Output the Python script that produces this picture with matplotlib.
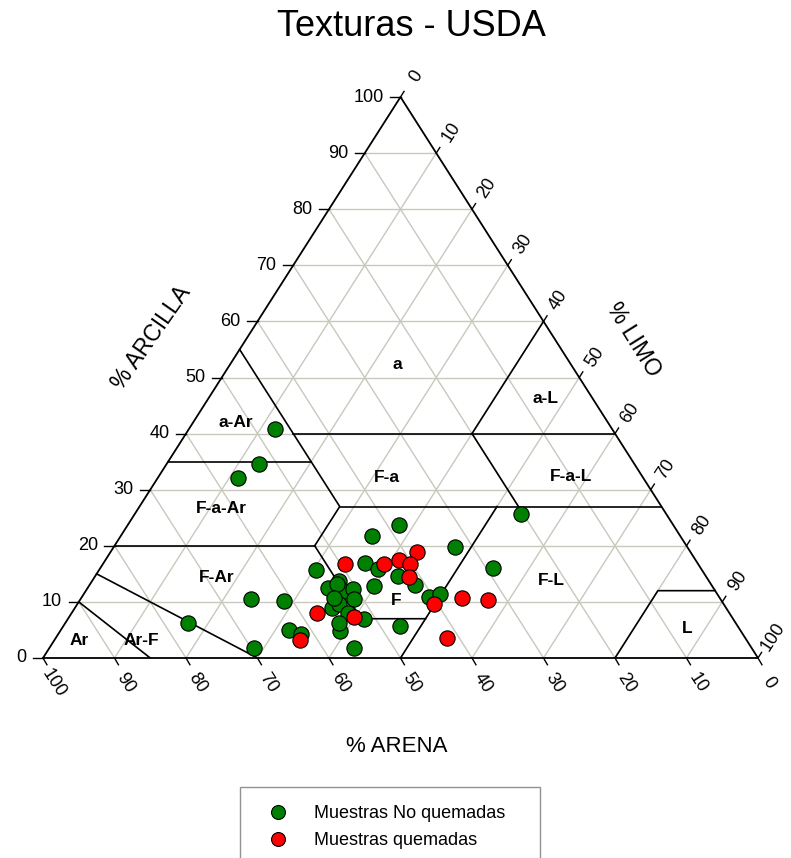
import numpy as np
import matplotlib.pyplot as plt
from matplotlib.lines import Line2D

plt.rcParams['font.family'] = ['Liberation Sans', 'DejaVu Sans']

# % arena y % arcilla de cada muestra (limo = 100 - arena - arcilla)
sand_green = [47.2, 52.5, 56.7, 43.2, 54.0, 46.5, 65.6, 61.2, 76.6, 69.6, 63.1, 61.8, 56.1,
              55.6, 38.4, 32.5, 45.2, 43.0, 41.5, 29.1, 47.3, 53.9, 51.8, 52.0, 50.5, 51.2,
              55.2, 53.8, 53.3, 51.6, 55.5, 40.6, 38.8, 47.2, 20.3, 52.3, 54.0]
clay_green = [40.8, 34.6, 32.1, 21.7, 15.7, 16.9, 10.5, 10.2, 6.2, 1.8, 5.0, 4.3, 4.8,
              1.8, 23.7, 19.8, 15.9, 14.6, 13.0, 16.0, 12.8, 12.5, 13.7, 11.9, 12.3, 10.5,
              8.9, 9.6, 8.0, 7.0, 6.2, 10.9, 11.4, 5.7, 25.7, 13.2, 10.7]
sand_red = [49.4, 38.2, 43.9, 41.5, 40.3, 41.6, 57.7, 52.8, 40.5, 36.1, 32.6, 41.7, 62.5]
clay_red = [16.8, 18.9, 16.8, 17.5, 16.8, 14.4, 8.0, 7.3, 9.6, 10.7, 10.3, 3.6, 3.2]

ticks = list(range(0, 101, 10))

# clases texturales USDA: nombre y posicion (arena, arcilla) del rotulo
classes = ['a', 'a-L', 'a-Ar', 'F-a', 'F-a-L', 'F-a-Ar', 'F-Ar', 'F', 'F-L', 'L', 'Ar', 'Ar-F']
class_sand = [24.3, 6.6, 52.1, 35.9, 10.0, 61.7, 68.6, 45.4, 22.0, 7.2, 93.4, 84.6]
class_clay = [52.4, 46.3, 41.9, 32.1, 32.4, 26.7, 14.3, 10.3, 13.9, 5.3, 3.2, 3.2]

# limites entre clases, (arena, arcilla) de cada tramo
borders = [
    ([85, 90], [0, 10]),
    ([70, 85], [0, 15]),
    ([80, 52], [20, 20]),
    ([52, 52, 43], [20, 7, 7]),
    ([50, 23], [0, 27]),
    ([45, 45, 52], [55, 27, 20]),
    ([65, 45], [35, 35]),
    ([45, 0], [40, 40]),
    ([20, 0], [40, 60]),
    ([45, 0], [27, 27]),
    ([20, 20], [40, 27]),
    ([20, 8, 0], [0, 12, 12]),
]


def tern(sand, clay):
    sand = np.asarray(sand, dtype=float)
    clay = np.asarray(clay, dtype=float)
    silt = 100 - sand - clay
    return silt + clay / 2, clay


fig = plt.figure(figsize=(7.91, 8.58), dpi=100)
ax = fig.add_axes([43 / 791, 200 / 858, 715 / 791, 561 / 858])
ax.set_xlim(0, 100)
ax.set_ylim(0, 100)
ax.axis('off')

gcol = '#c8c8bc'
for v in range(10, 100, 10):
    ax.plot(*tern([100 - v, 0], [v, v]), color=gcol, lw=1, zorder=1)
    ax.plot(*tern([v, v], [0, 100 - v]), color=gcol, lw=1, zorder=1)
    ax.plot(*tern([100 - v, 0], [0, 100 - v]), color=gcol, lw=1, zorder=1)

for s, c in borders:
    ax.plot(*tern(s, c), color='black', lw=1.2, zorder=2)
ax.plot(*tern([100, 0, 0, 100], [0, 0, 100, 0]), color='black', lw=1.3, zorder=2,
        clip_on=False)

for v in ticks:
    # arcilla, lado izquierdo
    x, y = tern(100 - v, v)
    ax.plot([x, x - 1.4], [y, y], color='black', lw=1, clip_on=False)
    ax.annotate(str(v), (x, y), xytext=(-12, 0), textcoords='offset points',
                ha='right', va='center', fontsize=13, annotation_clip=False)
    # arena, base
    x, y = tern(v, 0)
    ax.plot([x, x + 0.55], [y, y - 1.2], color='black', lw=1, clip_on=False)
    ax.annotate(str(v), (x, y), xytext=(8, -18), textcoords='offset points',
                ha='center', va='center', fontsize=13, rotation=-57,
                annotation_clip=False)
    # limo, lado derecho
    x, y = tern(0, 100 - v)
    ax.plot([x, x + 0.5], [y, y + 1.0], color='black', lw=1, clip_on=False)
    ax.annotate(str(v), (x, y), xytext=(11, 15), textcoords='offset points',
                ha='center', va='center', fontsize=13, rotation=57,
                annotation_clip=False)

for name, s, c in zip(classes, class_sand, class_clay):
    x, y = tern(s, c)
    ax.text(x, y, name, ha='center', va='center', fontsize=12.5,
            fontweight='bold', zorder=3)

xg, yg = tern(sand_green, clay_green)
ax.plot(xg, yg, 'o', color='#008000', ms=11, mec='black', mew=0.8, zorder=4,
        clip_on=False)
xr, yr = tern(sand_red, clay_red)
ax.plot(xr, yr, 'o', color='#ff0000', ms=11, mec='black', mew=0.8, zorder=5,
        clip_on=False)

fig.text(411 / 791, 1 - 27 / 858, 'Texturas - USDA', ha='center', va='center',
         fontsize=26)
fig.text(397 / 791, 1 - 746 / 858, '% ARENA', ha='center', va='center', fontsize=16)
fig.text(151 / 791, 1 - 338 / 858, '% ARCILLA', ha='center', va='center',
         fontsize=16.5, rotation=55)
fig.text(633 / 791, 1 - 340 / 858, '% LIMO', ha='center', va='center',
         fontsize=16.5, rotation=-58)

handles = [Line2D([], [], ls='', marker='o', color='#008000', ms=10, mec='black', mew=0.8),
           Line2D([], [], ls='', marker='o', color='#ff0000', ms=10, mec='black', mew=0.8)]
leg = fig.legend(handles, ['Muestras No quemadas', 'Muestras quemadas'],
                 loc='upper left', bbox_to_anchor=(240 / 791, 1 - 787 / 858, 300 / 791, 0),
                 mode='expand', fontsize=13, frameon=True, fancybox=False,
                 borderpad=1.0, labelspacing=0.55, handlelength=2.2,
                 handletextpad=0.9, borderaxespad=0)
leg.get_frame().set_edgecolor('#777777')
leg.get_frame().set_linewidth(1.0)

fig.savefig('out.png', dpi=100)
